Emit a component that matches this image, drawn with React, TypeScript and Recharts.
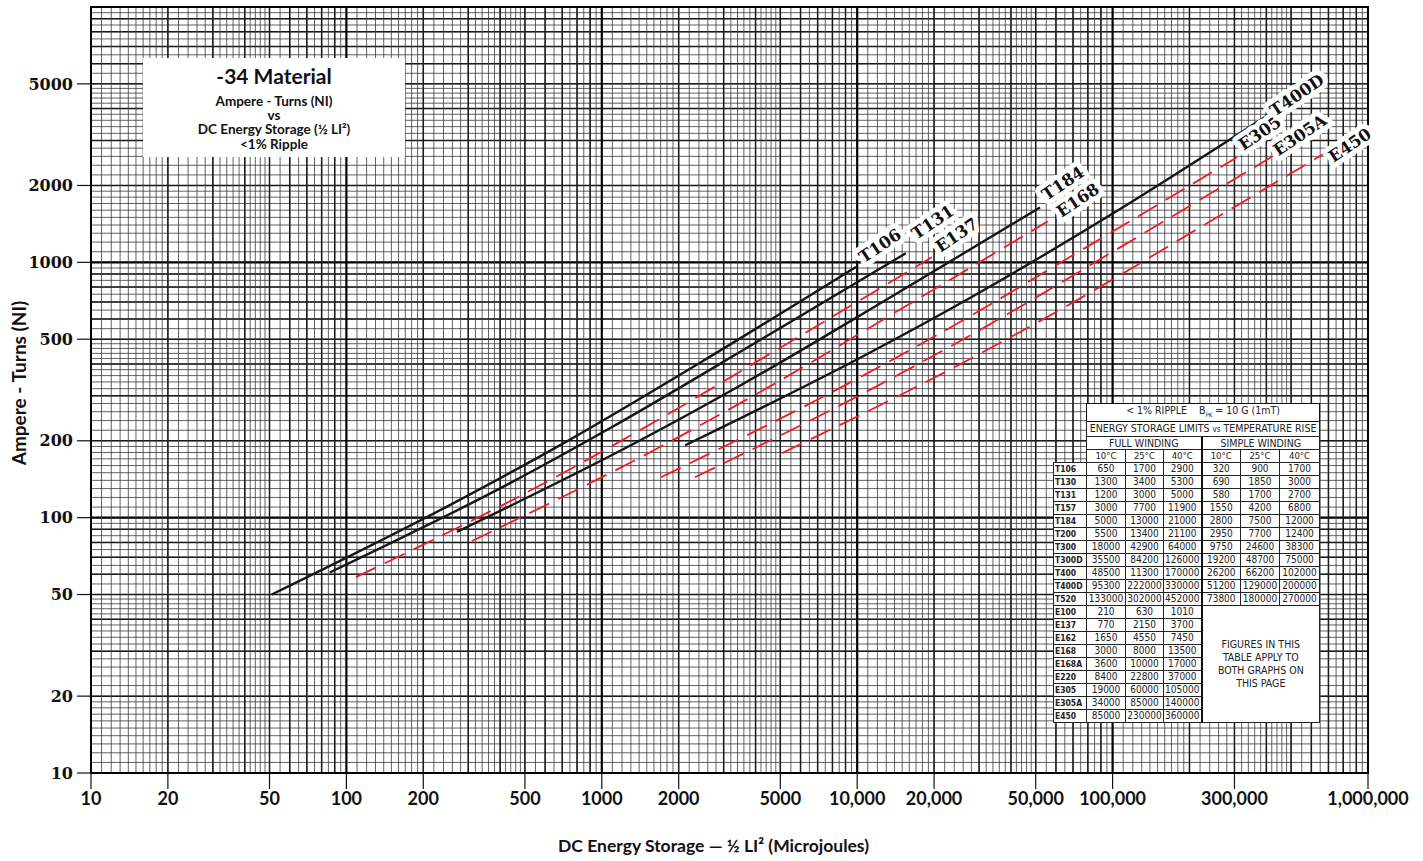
import React from 'react';
import { LineChart, Line, XAxis, YAxis, CartesianGrid, ReferenceArea, ReferenceLine } from 'recharts';

// axis ticks
const xTicks = [10, 20, 50, 100, 200, 500, 1000, 2000, 5000, 10000, 20000, 50000, 100000, 300000, 1000000];
const yTicks = [10, 20, 50, 100, 200, 500, 1000, 2000, 5000];

// solid curves (toroids)
const t106 = [{ x: 51, y: 50 }, { x: 254, y: 112 }, { x: 660, y: 188 }, { x: 2460, y: 408 }, { x: 9900, y: 960 }];
const t131 = [{ x: 86, y: 61 }, { x: 428, y: 135 }, { x: 1110, y: 228 }, { x: 4150, y: 495 }, { x: 15500, y: 1085 }];
const t184 = [{ x: 271, y: 88 }, { x: 1350, y: 196 }, { x: 3500, y: 330 }, { x: 13100, y: 717 }, { x: 52000, y: 1640 }];
const t400d = [{ x: 2120, y: 192 }, { x: 10500, y: 428 }, { x: 27400, y: 722 }, { x: 102000, y: 1570 }, { x: 410000, y: 3800 }];

// dashed curves (E cores)
const e137 = [{ x: 109, y: 58.5 }, { x: 543, y: 130 }, { x: 1410, y: 220 }, { x: 5270, y: 478 }, { x: 19600, y: 1047 }];
const e168 = [{ x: 310, y: 81 }, { x: 1540, y: 180 }, { x: 4010, y: 304 }, { x: 15000, y: 661 }, { x: 55800, y: 1448 }];
const e305 = [{ x: 1705, y: 144 }, { x: 8490, y: 321 }, { x: 22100, y: 541 }, { x: 82400, y: 1176 }, { x: 307000, y: 2578 }];
const e305a = [{ x: 2317, y: 144 }, { x: 11500, y: 321 }, { x: 30000, y: 541 }, { x: 112000, y: 1176 }, { x: 417000, y: 2578 }];
const e450 = [{ x: 5080, y: 179 }, { x: 25300, y: 399 }, { x: 65700, y: 672 }, { x: 245000, y: 1461 }, { x: 914000, y: 3200 }];

// table
const tableCores = ['T106', 'T130', 'T131', 'T157', 'T184', 'T200', 'T300', 'T300D', 'T400', 'T400D', 'T520',
  'E100', 'E137', 'E162', 'E168', 'E168A', 'E220', 'E305', 'E305A', 'E450'];
const fullWinding = [
  [650, 1700, 2900], [1300, 3400, 5300], [1200, 3000, 5000], [3000, 7700, 11900], [5000, 13000, 21000],
  [5500, 13400, 21100], [18000, 42900, 64000], [35500, 84200, 126000], [48500, 11300, 170000],
  [95300, 222000, 330000], [133000, 302000, 452000], [210, 630, 1010], [770, 2150, 3700], [1650, 4550, 7450],
  [3000, 8000, 13500], [3600, 10000, 17000], [8400, 22800, 37000], [19000, 60000, 105000],
  [34000, 85000, 140000], [85000, 230000, 360000],
];
const simpleWinding = [
  [320, 900, 1700], [690, 1850, 3000], [580, 1700, 2700], [1550, 4200, 6800], [2800, 7500, 12000],
  [2950, 7700, 12400], [9750, 24600, 38300], [19200, 48700, 75000], [26200, 66200, 102000],
  [51200, 129000, 200000], [73800, 180000, 270000],
];
const tempHeads = ['10°C', '25°C', '40°C'];

// grid lines of the log paper
const decades = [1, 10, 100, 1000, 10000, 100000];
const fineSteps: number[] = [];
for (let m = 1; m < 2; m += 0.1) fineSteps.push(m);
for (let m = 2; m < 5; m += 0.2) fineSteps.push(m);
for (let m = 5; m < 10; m += 0.5) fineSteps.push(m);
const fineVals = decades.flatMap((d) => fineSteps.map((m) => Math.round(m * d * 10000) / 1000));
const majorVals = decades.flatMap((d) => [2, 3, 4, 5, 6, 7, 8, 9].map((m) => m * d * 10));
const decadeVals = [10, 100, 1000, 10000, 100000, 1000000];
const inX = (vals: number[]) => vals.filter((v) => v > 10 && v < 1000000);
const inY = (vals: number[]) => vals.filter((v) => v >= 10 && v <= 10000);

const serif = "'DejaVu Serif', 'Liberation Serif', serif";
const sans = "Lato, 'Open Sans', sans-serif";
const narrow = "'Liberation Sans Narrow', 'DejaVu Sans Condensed', 'Roboto Condensed', sans-serif";

const curveLabel = (name: string, dx: number, dy: number, last: number) => (props: any) => {
  if (props.index !== last) return null;
  const x = props.x + dx;
  const y = props.y + dy;
  return (
    <text
      x={x}
      y={y}
      transform={`rotate(-34 ${x} ${y})`}
      textAnchor="middle"
      dominantBaseline="central"
      fontFamily={serif}
      fontWeight={700}
      fontSize={16.5}
      fill="#111"
      stroke="#fff"
      strokeWidth={10}
      strokeLinejoin="round"
      paintOrder="stroke"
    >
      {name}
    </text>
  );
};

const YTitle = (props: any) => {
  const vb = props.viewBox || { x: 0, y: 0, height: 0 };
  const cx = vb.x + 18;
  const cy = vb.y + vb.height / 2 - 7;
  return (
    <text x={cx} y={cy} transform={`rotate(-90 ${cx} ${cy})`} textAnchor="middle" dominantBaseline="central"
      fontFamily={sans} fontWeight={700} fontSize={19} fill="#111">
      Ampere - Turns (NI)
    </text>
  );
};

const XTitle = (props: any) => {
  const vb = props.viewBox || { x: 0, y: 0, width: 0 };
  return (
    <text x={vb.x + vb.width / 2 - 16} y={vb.y + 79} textAnchor="middle" fontFamily={sans} fontWeight={700}
      fontSize={17.5} fill="#111">
      DC Energy Storage — ½ LI² (Microjoules)
    </text>
  );
};

const fmtX = (v: number) => (v >= 10000 ? v.toLocaleString('en-US') : String(v));

const cell: React.CSSProperties = {
  border: '1px solid #222',
  padding: 0,
  textAlign: 'center',
  height: 12,
  lineHeight: '12px',
  whiteSpace: 'nowrap',
  overflow: 'hidden',
};
const blank: React.CSSProperties = { border: 'none', padding: 0, background: 'transparent' };

const EnergyTable = () => (
  <table
    style={{
      position: 'absolute', left: 1053, top: 403, width: 266, borderCollapse: 'collapse', tableLayout: 'fixed',
      fontFamily: narrow, fontSize: 10, color: '#222',
    }}
  >
    <colgroup>
      <col style={{ width: 33 }} />
      <col style={{ width: 39 }} />
      <col style={{ width: 38 }} />
      <col style={{ width: 38 }} />
      <col style={{ width: 39 }} />
      <col style={{ width: 39 }} />
      <col style={{ width: 40 }} />
    </colgroup>
    <tbody>
      <tr>
        <td style={blank} />
        <td colSpan={6} style={{ ...cell, background: '#fff', height: 13, border: '1.5px solid #111', fontSize: 10.5 }}>
          &lt; 1% RIPPLE&nbsp;&nbsp;&nbsp; B<sub style={{ fontSize: 6 }}>PK</sub> = 10 G (1mT)
        </td>
      </tr>
      <tr>
        <td style={blank} />
        <td colSpan={6} style={{ ...cell, background: '#fff', height: 13, fontSize: 10.5 }}>
          ENERGY STORAGE LIMITS <span style={{ fontSize: 8 }}>vs</span> TEMPERATURE RISE
        </td>
      </tr>
      <tr>
        <td style={blank} />
        <td colSpan={3} style={{ ...cell, background: '#fff', fontSize: 10.5 }}>FULL WINDING</td>
        <td colSpan={3} style={{ ...cell, background: '#fff', borderLeft: '2px solid #111', fontSize: 10.5 }}>
          SIMPLE WINDING
        </td>
      </tr>
      <tr>
        <td style={blank} />
        {[0, 1].map((g) =>
          tempHeads.map((h, i) => (
            <td key={g + '-' + i} style={{ ...cell, background: '#fff', fontSize: 9.5,
              borderLeft: g === 1 && i === 0 ? '2px solid #111' : cell.border }}>{h}</td>
          )),
        )}
      </tr>
      {tableCores.map((core, r) => (
        <tr key={core}>
          <td style={{ ...cell, background: '#fff', fontWeight: 700, fontSize: 8.5, textAlign: 'left', paddingLeft: 1 }}>
            {core}
          </td>
          {fullWinding[r].map((v, i) => (
            <td key={i} style={{ ...cell, background: '#fff' }}>{v}</td>
          ))}
          {r < simpleWinding.length
            ? simpleWinding[r].map((v, i) => (
              <td key={'s' + i} style={{ ...cell, background: '#fff', borderLeft: i === 0 ? '2px solid #111' : cell.border }}>
                {v}
              </td>
            ))
            : r === simpleWinding.length
              ? (
                <td colSpan={3} rowSpan={tableCores.length - simpleWinding.length}
                  style={{ ...cell, background: '#fff', borderLeft: '2px solid #111', whiteSpace: 'normal',
                    lineHeight: '13px', fontSize: 10.5, verticalAlign: 'middle', padding: '0 12px' }}>
                  FIGURES IN THIS TABLE APPLY TO BOTH GRAPHS ON THIS PAGE
                </td>
              )
              : null}
        </tr>
      ))}
    </tbody>
  </table>
);

const TitleBox = () => (
  <div
    style={{
      position: 'absolute', left: 143, top: 58, width: 262, height: 99, background: '#fff',
      fontFamily: sans, fontWeight: 700, color: '#111', textAlign: 'center',
    }}
  >
    <div style={{ fontSize: 21, lineHeight: '24px', marginTop: 6 }}>-34 Material</div>
    <div style={{ fontSize: 13.5, lineHeight: '14px', marginTop: 6 }}>Ampere - Turns (NI)</div>
    <div style={{ fontSize: 13.5, lineHeight: '14px' }}>vs</div>
    <div style={{ fontSize: 13.5, lineHeight: '15px' }}>DC Energy Storage (½ LI²)</div>
    <div style={{ fontSize: 13.5, lineHeight: '14px' }}>&lt;1% Ripple</div>
  </div>
);

const solid = '#161616';
const red = '#ee1c25';
const logX = { type: 'number' as const, scale: 'log' as const, domain: [10, 1000000], allowDataOverflow: true };
const logY = { type: 'number' as const, scale: 'log' as const, domain: [10, 10000], allowDataOverflow: true };

export default function App() {
  return (
    <div style={{ position: 'absolute', left: 0, top: 0, width: 1423, height: 861, background: '#fff' }}>
      <LineChart width={1423} height={861} margin={{ top: 7, right: 55, left: 0, bottom: 0 }}>
        <YAxis yAxisId="fine" {...logY} ticks={inY(fineVals)} interval={0} hide />
        <YAxis yAxisId="major" {...logY} ticks={inY(majorVals)} interval={0} hide />
        <YAxis yAxisId="dec" {...logY} ticks={inY(decadeVals)} interval={0} hide />
        <CartesianGrid yAxisId="fine" vertical={false} stroke="#3a3a3a" strokeWidth={0.8} />
        <CartesianGrid yAxisId="major" vertical={false} stroke="#1a1a1a" strokeWidth={1.5} />
        <CartesianGrid yAxisId="dec" vertical={false} stroke="#000" strokeWidth={2.2} />
        {inX(fineVals).map((v) => (
          <ReferenceLine key={'f' + v} x={v} stroke="#3a3a3a" strokeWidth={0.8} zIndex={-100} />
        ))}
        {inX(majorVals).map((v) => (
          <ReferenceLine key={'m' + v} x={v} stroke="#1a1a1a" strokeWidth={1.5} zIndex={-100} />
        ))}
        {inX(decadeVals).map((v) => (
          <ReferenceLine key={'d' + v} x={v} stroke="#000" strokeWidth={2.2} zIndex={-100} />
        ))}
        <XAxis
          {...logX}
          dataKey="x"
          ticks={xTicks}
          interval={0}
          tickFormatter={fmtX}
          height={88}
          axisLine={false}
          tickSize={16}
          tickMargin={3}
          tickLine={{ stroke: '#111', strokeWidth: 1.2 }}
          tick={{ fill: '#111', fontFamily: sans, fontWeight: 700, fontSize: 18 }}
          label={<XTitle />}
        />
        <YAxis
          {...logY}
          ticks={yTicks}
          interval={0}
          width={91}
          axisLine={false}
          tickSize={14}
          tickMargin={4}
          tickLine={{ stroke: '#111', strokeWidth: 1.2 }}
          tick={{ fill: '#111', fontFamily: serif, fontWeight: 700, fontSize: 16 }}
          label={<YTitle />}
        />
        <ReferenceArea x1={10} x2={1000000} y1={10} y2={10000} fill="none" stroke="#000" strokeWidth={2} />

        <Line data={e137} dataKey="y" name="E137" type="monotone" stroke={red} strokeWidth={1.8}
          strokeDasharray="22 10" dot={false} isAnimationActive={false} label={curveLabel('E137', 25, -22, 4)} />
        <Line data={e168} dataKey="y" name="E168" type="monotone" stroke={red} strokeWidth={1.8}
          strokeDasharray="22 10" dot={false} isAnimationActive={false} label={curveLabel('E168', 30, -21, 4)} />
        <Line data={e305} dataKey="y" name="E305" type="monotone" stroke={red} strokeWidth={1.8}
          strokeDasharray="22 10" dot={false} isAnimationActive={false} label={curveLabel('E305', 23, -24, 4)} />
        <Line data={e305a} dataKey="y" name="E305A" type="monotone" stroke={red} strokeWidth={1.8}
          strokeDasharray="22 10" dot={false} isAnimationActive={false} label={curveLabel('E305A', 29, -22, 4)} />
        <Line data={e450} dataKey="y" name="E450" type="monotone" stroke={red} strokeWidth={1.8}
          strokeDasharray="22 10" dot={false} isAnimationActive={false} label={curveLabel('E450', -8, 12, 4)} />

        <Line data={t106} dataKey="y" name="T106" type="monotone" stroke={solid} strokeWidth={2.4}
          dot={false} isAnimationActive={false} label={curveLabel('T106', 24, -21, 4)} />
        <Line data={t131} dataKey="y" name="T131" type="monotone" stroke={solid} strokeWidth={2.4}
          dot={false} isAnimationActive={false} label={curveLabel('T131', 27, -31, 4)} />
        <Line data={t184} dataKey="y" name="T184" type="monotone" stroke={solid} strokeWidth={2.4}
          dot={false} isAnimationActive={false} label={curveLabel('T184', 23, -24, 4)} />
        <Line data={t400d} dataKey="y" name="T400D" type="monotone" stroke={solid} strokeWidth={2.4}
          dot={false} isAnimationActive={false} label={curveLabel('T400D', 28, -19, 4)} />
      </LineChart>
      <TitleBox />
      <EnergyTable />
    </div>
  );
}
